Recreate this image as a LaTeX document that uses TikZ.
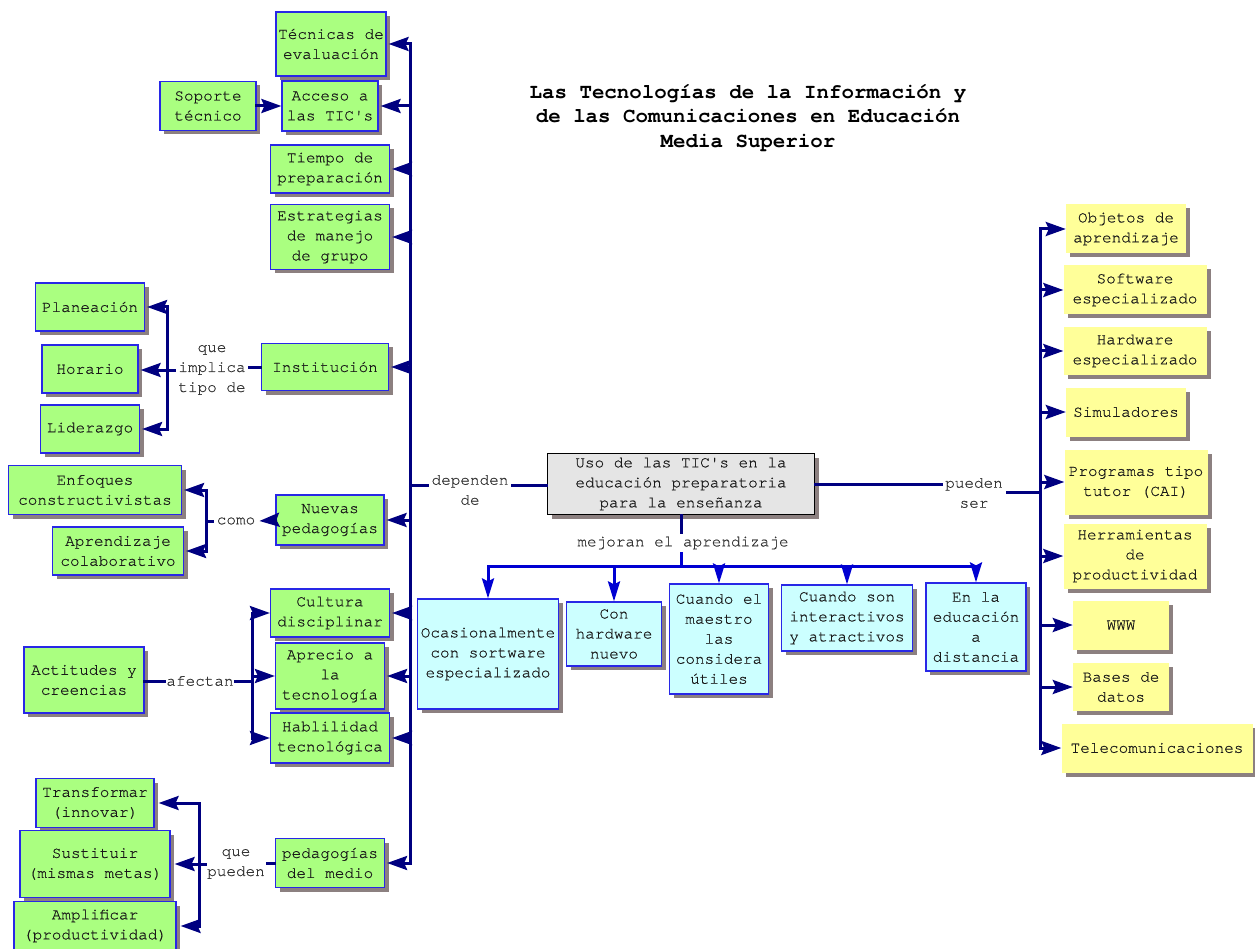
\documentclass[tikz,border=0pt]{standalone}
\usepackage{fontspec}
\setmainfont{TeX Gyre Cursor}[UprightFeatures={FakeBold=0.5}]
\usepackage{tikz}
\usetikzlibrary{arrows.meta,shadows}

\definecolor{navyline}{RGB}{0,0,128}
\definecolor{busblue}{RGB}{0,0,210}
\definecolor{boxblue}{RGB}{40,40,230}
\definecolor{leafgreen}{RGB}{170,255,128}
\definecolor{paleblue}{RGB}{204,255,255}
\definecolor{paleyellow}{RGB}{255,255,153}
\definecolor{corefill}{RGB}{229,229,229}
\definecolor{shadowgray}{RGB}{140,128,128}

\begin{document}
\begin{tikzpicture}[
  x=1pt, y=-1pt,
  box/.style={rectangle, inner sep=0pt, align=center, text=black!90,
              font=\fontsize{16}{20}\selectfont,
              drop shadow={shadow xshift=4pt, shadow yshift=-4pt, fill=shadowgray, opacity=1}},
  gbox/.style={box, draw=boxblue, line width=1.2pt, fill=leafgreen},
  cbox/.style={box, draw=boxblue, line width=1.2pt, fill=paleblue},
  ybox/.style={box, fill=paleyellow},
  core/.style={box, draw=black, line width=1.2pt, fill=corefill},
  linktext/.style={font=\fontsize{16}{20}\selectfont, text=black!80, align=center, inner sep=4pt},
  link/.style={navyline, line width=3pt, line cap=rect},
  arrow/.style={link, -{Stealth[length=20pt,width=14pt,inset=3pt]}, shorten >=2pt},
  buslink/.style={busblue, line width=3pt, line cap=rect},
  busarrow/.style={buslink, -{Stealth[length=20pt,width=12pt,inset=3pt]}}
]
\useasboundingbox (0,0) rectangle (1255,949);

% Title
\node[font=\bfseries\fontsize{20.8}{24.5}\selectfont, align=center, text=black] (title) at (748,118)
  {Las Tecnologías de la Información y\\de las Comunicaciones en Educación\\Media Superior};

% Central concept
\node[core, minimum width=267pt, minimum height=61pt] (uso) at (681,484)
  {Uso de las TIC\textquotesingle s en la\\educación preparatoria\\para la enseñanza};

% Left column
\node[gbox, minimum width=110pt, minimum height=64pt] (tecnicas) at (331,44) {Técnicas de\\evaluación};
\node[gbox, minimum width=96pt, minimum height=50pt] (acceso) at (330,106) {Acceso a\\las TIC\textquotesingle s};
\node[gbox, minimum width=96pt, minimum height=49pt] (soporte) at (208,106) {Soporte\\técnico};
\node[gbox, minimum width=119pt, minimum height=48pt] (tiempo) at (330,169) {Tiempo de\\preparación};
\node[gbox, minimum width=119pt, minimum height=65pt] (estrategias) at (330,237) {Estrategias\\de manejo\\de grupo};
\node[gbox, minimum width=127pt, minimum height=47pt] (institucion) at (325,367) {Institución};
\node[gbox, minimum width=108pt, minimum height=50pt] (nuevas) at (330,520) {Nuevas\\pedagogías};
\node[gbox, minimum width=119pt, minimum height=48pt] (cultura) at (330,613) {Cultura\\disciplinar};
\node[gbox, minimum width=109pt, minimum height=66pt] (aprecio) at (330,676) {Aprecio a\\la\\tecnología};
\node[gbox, minimum width=119pt, minimum height=50pt] (habilidad) at (330,738) {Hablilidad\\tecnológica};
\node[gbox, minimum width=109pt, minimum height=49pt] (medio) at (330,863) {pedagogías\\del medio};

% Institucion branch
\node[gbox, minimum width=109pt, minimum height=48pt] (planeacion) at (90,307) {Planeación};
\node[gbox, minimum width=96pt, minimum height=48pt] (horario) at (90,369) {Horario};
\node[gbox, minimum width=99pt, minimum height=48pt] (liderazgo) at (90,429) {Liderazgo};

% Nuevas pedagogias branch
\node[gbox, minimum width=173pt, minimum height=49pt] (enfoques) at (95,490) {Enfoques\\constructivistas};
\node[gbox, minimum width=131pt, minimum height=48pt] (aprendizaje) at (118,551) {Aprendizaje\\colaborativo};

% Actitudes
\node[gbox, minimum width=120pt, minimum height=66pt] (actitudes) at (84,680) {Actitudes y\\creencias};

% Pedagogias del medio branch
\node[gbox, minimum width=118pt, minimum height=49pt] (transformar) at (95,803) {Transformar\\(innovar)};
\node[gbox, minimum width=150pt, minimum height=67pt] (sustituir) at (95,864) {Sustituir\\(mismas metas)};
\node[gbox, minimum width=162pt, minimum height=49pt] (amplificar) at (95,926) {Amplificar\\(productividad)};

% Bottom row
\node[cbox, minimum width=141pt, minimum height=110pt] (ocasional) at (488,654) {Ocasionalmente\\con sortware\\especializado};
\node[cbox, minimum width=95pt, minimum height=64pt] (hardware) at (614,634) {Con\\hardware\\nuevo};
\node[cbox, minimum width=99pt, minimum height=110pt] (maestro) at (719,639) {Cuando el\\maestro\\las\\considera\\útiles};
\node[cbox, minimum width=131pt, minimum height=66pt] (interactivos) at (847,618) {Cuando son\\interactivos\\y atractivos};
\node[cbox, minimum width=100pt, minimum height=88pt] (distancia) at (976,627) {En la\\educación\\a\\distancia};

% Right column
\node[ybox, minimum width=120pt, minimum height=49pt] (objetos) at (1126,229) {Objetos de\\aprendizaje};
\node[ybox, minimum width=143pt, minimum height=49pt] (software) at (1135,290) {Software\\especializado};
\node[ybox, minimum width=143pt, minimum height=48pt] (hardesp) at (1135,351) {Hardware\\especializado};
\node[ybox, minimum width=120pt, minimum height=49pt] (simuladores) at (1126,412) {Simuladores};
\node[ybox, minimum width=143pt, minimum height=65pt] (programas) at (1136,482) {Programas tipo\\tutor (CAI)};
\node[ybox, minimum width=143pt, minimum height=65pt] (herramientas) at (1135,556) {Herramientas\\de\\productividad};
\node[ybox, minimum width=96pt, minimum height=49pt] (www) at (1121,625) {WWW};
\node[ybox, minimum width=96pt, minimum height=48pt] (bases) at (1121,687) {Bases de\\datos};
\node[ybox, minimum width=191pt, minimum height=49pt] (telecom) at (1157,748) {Telecomunicaciones};

% Link labels
\node[linktext] (dependen) at (470,490) {dependen\\de};
\node[linktext] (pueden) at (974,493) {pueden\\ser};
\node[linktext] (mejoran) at (683,543) {mejoran el aprendizaje};
\node[linktext] (implica) at (212,370) {que\\implica\\tipo de};
\node[linktext] (como) at (236,521) {como};
\node[linktext, inner sep=2pt] (afectan) at (200,681) {afectan};
\node[linktext, inner sep=2pt] (quepueden) at (236,864) {que\\pueden};

% Junctions
\coordinate (spine) at (410,485);
\coordinate (rspine) at (1040,492);
\coordinate (bus) at (681,566);
\coordinate (ijoin) at (167,370);
\coordinate (cjoin) at (206,521);
\coordinate (ajoin) at (252,681);
\coordinate (qjoin) at (199,864);

% Left spine
\draw[link] (spine |- tecnicas.east) -- (spine |- medio.east);
\draw[arrow] (spine |- tecnicas.east) -- (tecnicas.east);
\draw[arrow] (spine |- acceso.east) -- (acceso.east);
\draw[arrow] (spine |- tiempo.east) -- (tiempo.east);
\draw[arrow] (spine |- estrategias.east) -- (estrategias.east);
\draw[arrow] (spine |- institucion.east) -- (institucion.east);
\draw[arrow] (spine |- nuevas.east) -- (nuevas.east);
\draw[arrow] (spine |- cultura.east) -- (cultura.east);
\draw[arrow] (spine |- aprecio.east) -- (aprecio.east);
\draw[arrow] (spine |- habilidad.east) -- (habilidad.east);
\draw[arrow] (spine |- medio.east) -- (medio.east);
\draw[link] (spine) -- (spine -| dependen.west);
\draw[link] (dependen.east |- spine) -- (uso.west |- spine);

% Soporte
\draw[arrow, shorten >=0pt] (soporte.east) -- (acceso.west);

% Institucion
\draw[link] (institucion.west) -- (institucion.west -| implica.east);
\draw[link] (implica.west |- ijoin) -- (ijoin);
\draw[link] (ijoin |- planeacion.east) -- (ijoin |- liderazgo.east);
\draw[arrow] (ijoin |- planeacion.east) -- (planeacion.east);
\draw[arrow] (ijoin) -- (horario.east |- ijoin);
\draw[arrow] (ijoin |- liderazgo.east) -- (liderazgo.east);

% Nuevas pedagogias
\draw[arrow, shorten >=0pt] (nuevas.west) -- (como.east);
\draw[link] (como.west) -- (cjoin);
\draw[link] (cjoin |- enfoques.east) -- (cjoin |- aprendizaje.east);
\draw[arrow] (cjoin |- enfoques.east) -- (enfoques.east);
\draw[arrow] (cjoin |- aprendizaje.east) -- (aprendizaje.east);

% Actitudes
\draw[link] (actitudes.east |- afectan) -- (afectan.west);
\draw[link] (afectan.east) -- (ajoin);
\draw[link] (ajoin |- cultura.west) -- (ajoin |- habilidad.west);
\draw[arrow, shorten >=0pt] (ajoin |- cultura.west) -- (cultura.west);
\draw[arrow, shorten >=0pt] (ajoin |- aprecio.west) -- (aprecio.west);
\draw[arrow, shorten >=0pt] (ajoin |- habilidad.west) -- (habilidad.west);

% Pedagogias del medio
\draw[link] (medio.west) -- (quepueden.east |- medio.west);
\draw[link] (quepueden.west |- qjoin) -- (qjoin);
\draw[link] (qjoin |- transformar.east) -- (qjoin |- amplificar.east);
\draw[arrow, shorten >=4pt] (qjoin |- transformar.east) -- (transformar.east);
\draw[arrow, shorten >=4pt] (qjoin) -- (sustituir.east |- qjoin);
\draw[arrow, shorten >=4pt] (qjoin |- amplificar.east) -- (amplificar.east);

% Pueden ser
\draw[link] (uso.east) -- (uso.east -| pueden.west);
\draw[link] (pueden.east |- rspine) -- (rspine);
\draw[link] (rspine |- objetos.west) -- (rspine |- telecom.west);
\draw[arrow, shorten >=0pt] (rspine |- objetos.west) -- (objetos.west);
\draw[arrow, shorten >=0pt] (rspine |- software.west) -- (software.west);
\draw[arrow, shorten >=0pt] (rspine |- hardesp.west) -- (hardesp.west);
\draw[arrow, shorten >=0pt] (rspine |- simuladores.west) -- (simuladores.west);
\draw[arrow, shorten >=0pt] (rspine |- programas.west) -- (programas.west);
\draw[arrow, shorten >=0pt] (rspine |- herramientas.west) -- (herramientas.west);
\draw[arrow, shorten >=0pt] (rspine |- www.west) -- (www.west);
\draw[arrow, shorten >=0pt] (rspine |- bases.west) -- (bases.west);
\draw[arrow, shorten >=0pt] (rspine |- telecom.west) -- (telecom.west);

% Mejoran el aprendizaje
\draw[link] (uso.south) -- (uso.south |- mejoran.north);
\draw[buslink] (bus |- mejoran.south) -- (bus);
\draw[buslink] (bus -| ocasional.north) -- (bus -| distancia.north);
\draw[busarrow] (bus -| ocasional.north) -- (ocasional.north);
\draw[busarrow] (bus -| hardware.north) -- (hardware.north);
\draw[busarrow] (bus -| maestro.north) -- (maestro.north);
\draw[busarrow] (bus -| interactivos.north) -- (interactivos.north);
\draw[busarrow] (bus -| distancia.north) -- (distancia.north);

\end{tikzpicture}
\end{document}
